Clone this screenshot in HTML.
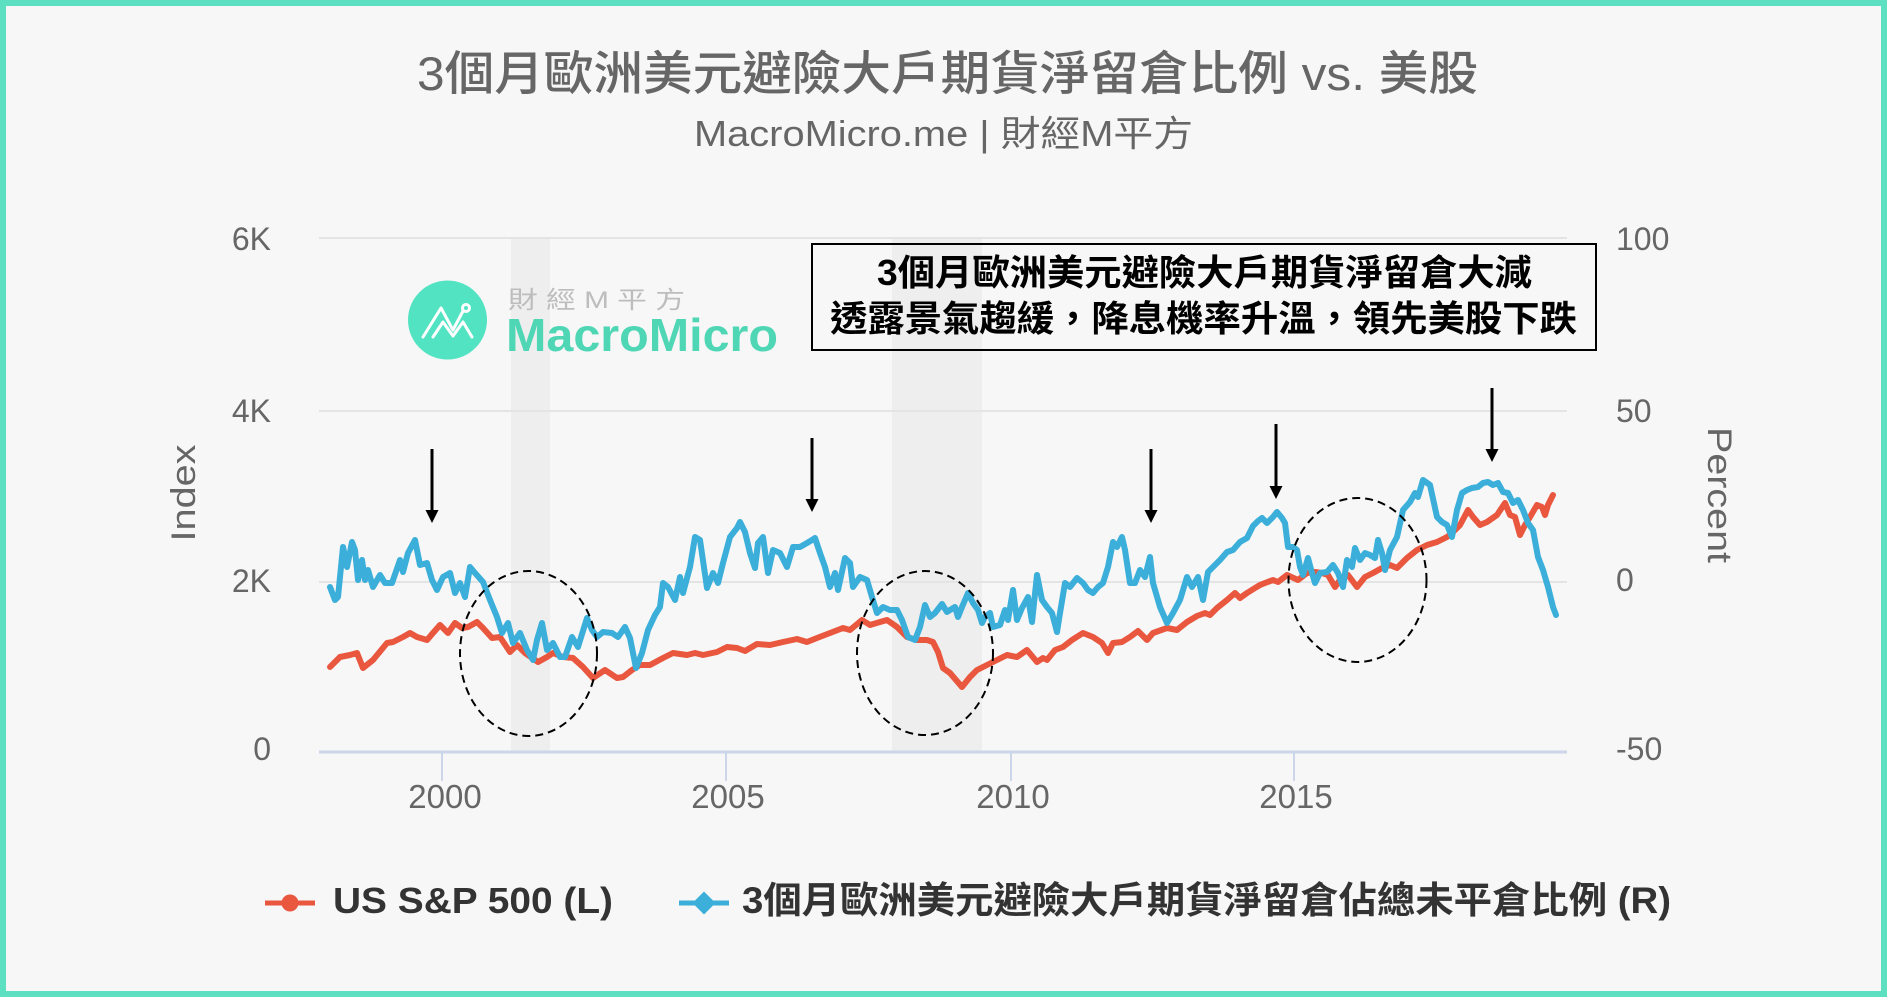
<!DOCTYPE html>
<html>
<head>
<meta charset="utf-8">
<style>
  html, body { margin: 0; padding: 0; background: #f7f7f7; }
  body { width: 1887px; height: 997px; overflow: hidden; }
  svg { display: block; }
  text { font-family: "Liberation Sans", "Noto Sans CJK TC", sans-serif; }
</style>
</head>
<body>
<svg width="1887" height="997" viewBox="0 0 1887 997" xmlns="http://www.w3.org/2000/svg">
  <!-- background & border -->
  <rect x="0" y="0" width="1887" height="997" fill="#5ce0c1"/>
  <rect x="6" y="6" width="1875" height="985" fill="#f7f7f7"/>

  <!-- Title -->
  <text x="417" y="90" font-size="47" fill="#666666" font-weight="500" textLength="1061" lengthAdjust="spacingAndGlyphs">3個月歐洲美元避險大戶期貨淨留倉比例 vs. 美股</text>
  <text x="694" y="146" font-size="36" fill="#666666" textLength="499" lengthAdjust="spacingAndGlyphs">MacroMicro.me | 財經M平方</text>

  <!-- recession bands -->
  <rect x="511" y="238" width="39" height="514" fill="#eeeeee"/>
  <rect x="892" y="238" width="90" height="514" fill="#eeeeee"/>

  <!-- gridlines -->
  <g stroke="#e4e4e4" stroke-width="2">
    <line x1="319" y1="238" x2="1567" y2="238"/>
    <line x1="319" y1="411" x2="1567" y2="411"/>
    <line x1="319" y1="582" x2="1567" y2="582"/>
  </g>
  <!-- x axis -->
  <line x1="319" y1="752" x2="1567" y2="752" stroke="#ccd6eb" stroke-width="3"/>
  <g stroke="#ccd6eb" stroke-width="2">
    <line x1="442" y1="752" x2="442" y2="781"/>
    <line x1="726" y1="752" x2="726" y2="781"/>
    <line x1="1011" y1="752" x2="1011" y2="781"/>
    <line x1="1294" y1="752" x2="1294" y2="781"/>
  </g>

  <!-- left axis labels -->
  <g font-size="32" fill="#666666" text-anchor="end">
    <text x="271" y="250">6K</text>
    <text x="271" y="422">4K</text>
    <text x="271" y="592">2K</text>
    <text x="271" y="760">0</text>
  </g>
  <!-- right axis labels -->
  <g font-size="32" fill="#666666">
    <text x="1616" y="250">100</text>
    <text x="1616" y="422">50</text>
    <text x="1616" y="591">0</text>
    <text x="1616" y="760">-50</text>
  </g>
  <!-- x labels -->
  <g font-size="33" fill="#666666" text-anchor="middle">
    <text x="445" y="808">2000</text>
    <text x="728" y="808">2005</text>
    <text x="1013" y="808">2010</text>
    <text x="1296" y="808">2015</text>
  </g>
  <!-- axis titles -->
  <text transform="translate(195,493) rotate(-90)" text-anchor="middle" font-size="34" fill="#666666" textLength="97" lengthAdjust="spacingAndGlyphs">Index</text>
  <text transform="translate(1708,495) rotate(90)" text-anchor="middle" font-size="34" fill="#666666" textLength="136" lengthAdjust="spacingAndGlyphs">Percent</text>

  <!-- logo watermark -->
  <circle cx="447.5" cy="320" r="39.5" fill="#52e3c2"/>
  <g fill="none" stroke="#ffffff" stroke-width="3" stroke-linecap="round" stroke-linejoin="round">
    <polyline points="423,337 441,308 453,330 463,311"/>
    <polyline points="433,337 443,322 453,336 463,322 472,337"/>
    <circle cx="466" cy="308" r="3.5" fill="#52e3c2"/>
  </g>
  <text x="508" y="308" font-size="24" fill="#bdbdbd" textLength="177" lengthAdjust="spacingAndGlyphs">財 經 M 平 方</text>
  <text x="506" y="351" font-size="46" font-weight="bold" fill="#4fd6b5" textLength="272" lengthAdjust="spacingAndGlyphs">MacroMicro</text>

  <!-- annotation box -->
  <rect x="812" y="244" width="784" height="106" fill="none" stroke="#000000" stroke-width="2"/>
  <text x="877" y="285" font-size="36" font-weight="bold" fill="#000000" textLength="655" lengthAdjust="spacingAndGlyphs">3個月歐洲美元避險大戶期貨淨留倉大減</text>
  <text x="830" y="331" font-size="36" font-weight="bold" fill="#000000" textLength="747" lengthAdjust="spacingAndGlyphs">透露景氣趨緩，降息機率升溫，領先美股下跌</text>

  <!-- S&P 500 (red) -->
  <polyline fill="none" stroke="#e9573f" stroke-width="6" stroke-linejoin="round" stroke-linecap="round"
    points="330,667 340,657 350,655 357,653 363,668 373,660 387,643 393,642 403,637 410,633 417,637 427,640 433,633 440,625 448,633 455,623 462,628 468,627 477,622 483,628 492,638 500,637 510,652 517,645 525,653 538,662 547,657 553,653 563,657 573,658 583,667 593,678 605,670 617,678 623,677 632,670 640,665 650,665 663,658 673,653 687,655 695,653 703,655 717,652 727,647 737,648 745,651 757,644 770,645 783,642 797,639 807,642 817,638 830,633 843,628 850,630 862,620 870,625 880,622 887,620 897,627 907,637 917,640 927,640 933,642 938,652 943,668 950,673 962,687 970,677 977,670 987,665 997,660 1007,655 1017,657 1027,650 1037,662 1043,658 1047,660 1055,650 1063,647 1072,640 1083,633 1093,637 1102,643 1108,653 1113,643 1122,642 1130,637 1138,631 1147,640 1153,633 1167,628 1177,630 1187,622 1197,616 1205,613 1210,615 1217,608 1227,600 1235,593 1240,598 1247,593 1255,588 1260,585 1265,583 1273,580 1278,582 1287,575 1298,580 1307,573 1315,572 1322,573 1328,575 1335,587 1342,577 1348,575 1357,587 1365,577 1373,573 1382,568 1390,565 1397,568 1407,558 1417,550 1427,545 1437,542 1447,537 1453,532 1460,525 1468,510 1473,517 1480,525 1487,522 1497,515 1505,503 1510,515 1515,517 1520,535 1525,525 1530,517 1537,505 1542,507 1545,515 1548,505 1553,495"/>

  <!-- Eurodollar ratio (blue) -->
  <polyline fill="none" stroke="#3bafda" stroke-width="6" stroke-linejoin="round" stroke-linecap="round"
    points="330,587 335,600 338,597 343,547 347,567 352,542 355,550 358,580 362,560 365,580 368,570 373,587 380,575 385,583 392,583 400,560 403,572 408,553 415,540 420,565 427,563 432,580 437,590 443,577 450,573 455,593 460,583 465,597 470,567 475,573 483,582 490,600 497,617 502,633 508,623 513,643 520,633 527,650 533,660 537,640 542,623 547,650 553,643 560,657 565,657 572,637 578,647 587,618 592,630 597,637 603,632 612,633 618,637 625,627 630,638 636,668 642,653 648,630 655,615 660,607 663,583 668,587 675,600 680,577 683,593 690,567 695,537 700,540 707,588 713,573 718,583 723,563 730,537 737,528 740,522 745,532 750,553 755,568 758,543 763,537 768,573 773,550 780,553 787,567 793,547 800,547 807,543 812,540 815,538 820,553 825,567 830,587 835,573 838,590 845,558 850,563 853,587 860,577 867,580 872,597 877,613 883,607 890,610 897,610 902,620 908,637 915,640 920,627 925,605 930,617 935,613 942,604 947,612 950,610 955,607 958,617 962,607 968,593 973,603 978,610 982,623 985,617 990,613 993,627 1000,625 1005,610 1008,620 1013,590 1017,620 1022,608 1028,597 1032,622 1037,575 1042,600 1047,607 1052,613 1057,632 1060,613 1065,583 1070,587 1077,578 1083,583 1088,590 1093,593 1098,587 1103,583 1108,567 1113,542 1117,547 1122,537 1125,550 1130,583 1135,583 1140,570 1145,577 1150,557 1153,583 1160,607 1167,623 1173,613 1180,600 1187,577 1192,587 1198,577 1203,600 1208,572 1213,567 1220,560 1227,552 1233,550 1240,542 1247,538 1253,526 1258,521 1262,518 1267,523 1273,517 1277,512 1282,518 1285,523 1288,547 1293,547 1297,550 1300,567 1303,575 1308,558 1312,573 1315,583 1320,573 1327,572 1333,565 1338,573 1343,587 1347,560 1352,567 1355,548 1360,560 1365,553 1370,555 1375,558 1378,540 1382,553 1385,570 1390,550 1397,537 1403,510 1410,502 1415,493 1418,497 1423,480 1430,485 1437,517 1442,522 1447,525 1452,537 1457,510 1462,493 1467,490 1472,488 1478,487 1483,483 1488,482 1493,485 1498,483 1503,492 1508,493 1513,503 1518,500 1523,510 1528,523 1533,530 1538,557 1543,570 1548,587 1553,607 1556,615"/>

  <!-- dashed ellipses -->
  <g fill="none" stroke="#000000" stroke-width="2" stroke-dasharray="8 5">
    <ellipse cx="528.5" cy="653.5" rx="68.5" ry="82.5"/>
    <ellipse cx="925" cy="653" rx="68" ry="82"/>
    <ellipse cx="1357.5" cy="580" rx="69" ry="82"/>
  </g>

  <!-- arrows -->
  <g stroke="#000000" stroke-width="3">
    <line x1="432" y1="449" x2="432" y2="513"/>
    <line x1="812" y1="438" x2="812" y2="502"/>
    <line x1="1151" y1="449" x2="1151" y2="513"/>
    <line x1="1276" y1="424" x2="1276" y2="489"/>
    <line x1="1492" y1="388" x2="1492" y2="452"/>
  </g>
  <g fill="#000000">
    <polygon points="425.5,510 438.5,510 432,523"/>
    <polygon points="805.5,499 818.5,499 812,512"/>
    <polygon points="1144.5,510 1157.5,510 1151,523"/>
    <polygon points="1269.5,486 1282.5,486 1276,499"/>
    <polygon points="1485.5,449 1498.5,449 1492,462"/>
  </g>

  <!-- legend -->
  <line x1="265" y1="903" x2="315" y2="903" stroke="#e9573f" stroke-width="5"/>
  <circle cx="290" cy="903" r="8.5" fill="#e9573f"/>
  <text x="333" y="913" font-size="36" font-weight="bold" fill="#333333" textLength="280" lengthAdjust="spacingAndGlyphs">US S&amp;P 500 (L)</text>

  <line x1="679" y1="903" x2="729" y2="903" stroke="#3bafda" stroke-width="5"/>
  <polygon points="704,891.5 715.5,903 704,914.5 692.5,903" fill="#3bafda"/>
  <text x="742" y="913" font-size="37" font-weight="bold" fill="#333333" textLength="929" lengthAdjust="spacingAndGlyphs">3個月歐洲美元避險大戶期貨淨留倉佔總未平倉比例 (R)</text>
</svg>
</body>
</html>
